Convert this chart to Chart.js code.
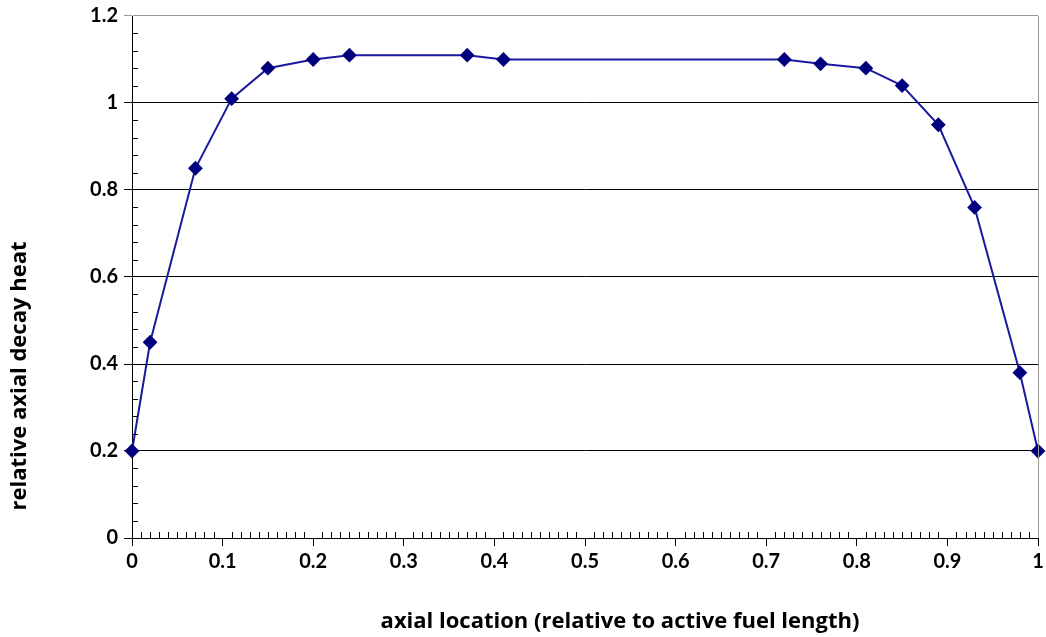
<!DOCTYPE html>
<html>
<head>
<meta charset="utf-8">
<script src="https://cdn.jsdelivr.net/npm/chart.js@4"></script>
<style>
  html, body { margin: 0; padding: 0; background: #fff; }
  #wrap { width: 1046px; height: 637px; }
</style>
</head>
<body>
<div id="wrap"><canvas id="c" width="1046" height="637"></canvas></div>
<script>
// axial location vs relative decay heat
const positions = [0, 0.02, 0.07, 0.11, 0.15, 0.2, 0.24, 0.37, 0.41, 0.72, 0.76, 0.81, 0.85, 0.89, 0.93, 0.98, 1.0];
const decayHeat = [0.2, 0.45, 0.85, 1.01, 1.08, 1.1, 1.11, 1.11, 1.1, 1.1, 1.09, 1.08, 1.04, 0.95, 0.76, 0.38, 0.2];
const xTickLabels = ['0', '0.1', '0.2', '0.3', '0.4', '0.5', '0.6', '0.7', '0.8', '0.9', '1'];
const yTickLabels = ['0', '0.2', '0.4', '0.6', '0.8', '1', '1.2'];
const xTitle = 'axial location (relative to active fuel length)';
const yTitle = 'relative axial decay heat';

const TICK_FONT = 'Lato, "Open Sans", sans-serif';
const TITLE_FONT = '"Open Sans", sans-serif';

// petits traits secondaires vers l'intérieur, bordure droite grise, titres décalés (comme Excel)
const extras = {
    id: 'extras',
    afterDraw(chart) {
        const ctx = chart.ctx;
        const x = chart.scales.x, y = chart.scales.y;
        const area = chart.chartArea;
        ctx.save();
        ctx.strokeStyle = '#000';
        ctx.lineWidth = 1;
        ctx.beginPath();
        for (let i = 1; i < 100; i++) {
            if (i % 10 === 0) continue;
            const px = Math.round(x.getPixelForValue(i / 100)) + 0.5;
            ctx.moveTo(px, area.bottom);
            ctx.lineTo(px, area.bottom - 6);
        }
        for (let i = 1; i < 30; i++) {
            if (i % 5 === 0) continue;
            const py = Math.round(y.getPixelForValue(i * 0.04)) + 0.5;
            ctx.moveTo(area.left, py);
            ctx.lineTo(area.left + 6, py);
        }
        ctx.stroke();
        ctx.strokeStyle = '#999';
        ctx.beginPath();
        ctx.moveTo(area.right + 0.5, area.top);
        ctx.lineTo(area.right + 0.5, area.bottom);
        ctx.stroke();

        ctx.fillStyle = '#000';
        ctx.font = 'bold 22px ' + TITLE_FONT;
        ctx.textAlign = 'center';
        ctx.textBaseline = 'middle';
        ctx.fillText(xTitle, 620, 622);

        ctx.translate(20, 376);
        ctx.rotate(-Math.PI / 2);
        ctx.fillText(yTitle, 0, 0);
        ctx.restore();
    }
};

new Chart(document.getElementById('c'), {
    type: 'scatter',
    data: {
        datasets: [{
            data: positions.map((p, i) => ({ x: p, y: decayHeat[i] })),
            showLine: true,
            clip: false,
            borderColor: '#1a1a9e',
            borderWidth: 2,
            backgroundColor: '#00007f',
            pointBackgroundColor: '#00007f',
            pointBorderColor: '#00007f',
            pointStyle: 'rectRot',
            pointRadius: 6,
            tension: 0
        }]
    },
    options: {
        responsive: false,
        animation: false,
        layout: { padding: { top: 16, right: 5, left: 0, bottom: 0 } },
        plugins: { legend: { display: false }, tooltip: { enabled: false } },
        scales: {
            x: {
                type: 'linear',
                min: 0, max: 1,
                afterBuildTicks(scale) {
                    scale.ticks = xTickLabels.map((l, i) => ({ value: i / 10 }));
                },
                afterFit(scale) {
                    scale.height = 99;
                    scale.paddingRight = 0;
                    scale.paddingLeft = 0;
                },
                ticks: {
                    callback: (v, i) => xTickLabels[i],
                    color: '#000',
                    font: { family: TICK_FONT, size: 20, weight: 'bold' },
                    padding: 4,
                    maxRotation: 0
                },
                grid: { drawOnChartArea: false, tickLength: 8, color: '#000' },
                border: { color: '#000', width: 1 }
            },
            y: {
                min: 0, max: 1.2,
                afterBuildTicks(scale) {
                    scale.ticks = yTickLabels.map((l, i) => ({ value: i * 0.2 }));
                },
                afterFit(scale) {
                    scale.width = 132;
                    scale.paddingTop = 0;
                    scale.paddingBottom = 0;
                },
                ticks: {
                    callback: (v, i) => yTickLabels[i],
                    color: '#000',
                    font: { family: TICK_FONT, size: 20, weight: 'bold' },
                    padding: 6
                },
                grid: {
                    tickLength: 8,
                    color: ctx => (ctx.tick && ctx.tick.value > 1.19) ? '#999' : '#000',
                    lineWidth: 1
                },
                border: { color: '#000', width: 1 }
            }
        }
    },
    plugins: [extras]
});
</script>
</body>
</html>
